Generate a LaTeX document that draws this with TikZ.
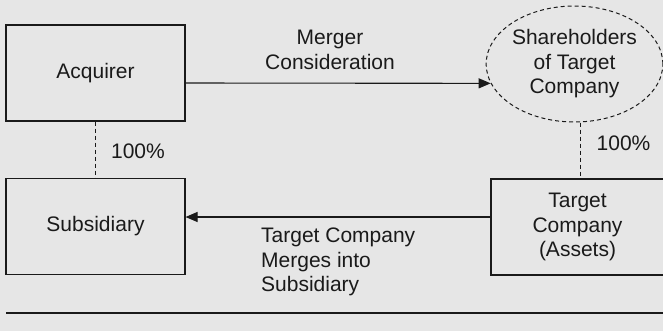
\documentclass[tikz,border=0pt]{standalone}
\usepackage{fontspec}
\setmainfont{Liberation Sans}
\usetikzlibrary{arrows.meta,shapes.geometric}
\definecolor{bg}{HTML}{E6E6E6}
\definecolor{ink}{HTML}{1A1A1A}
\tikzset{
  x=1bp, y=-1bp,
  every node/.style={font=\fontsize{21bp}{24.5bp}\selectfont, text=ink},
  boxnode/.style={draw=ink, line width=1.1bp, minimum width=179bp, minimum height=96bp, inner sep=0pt},
  ovalnode/.style={ellipse, draw=ink, line width=1bp, dash pattern=on 4bp off 3bp, minimum width=167bp, minimum height=116bp, inner sep=0pt, align=center},
  lbl/.style={inner sep=0pt, align=center},
  arr/.style={draw=ink, line width=1.1bp, -{Triangle[length=12bp,width=10bp]}},
  dashln/.style={draw=ink, line width=1bp, dash pattern=on 4bp off 3bp},
}
\begin{document}
\begin{tikzpicture}
\fill[bg] (0,0) rectangle (663,331);
\useasboundingbox (0,0) rectangle (663,331);
\begin{scope}
\clip (0,0) rectangle (663,331);
\node[boxnode] (acq) at (95.5,73) {Acquirer};
\node[boxnode] (sub) at (95.5,226.5) {Subsidiary};
\node[boxnode, minimum width=177bp, align=center] (tgt) at (579.5,227) {};
\node[lbl] (tt) at (577.5,227) {Target\\Company\\(Assets)};
\node[ovalnode] (sh) at (574.5,64) {Shareholders\\of Target\\Company};
\node[lbl] (mc) at (330,50) {Merger\\Consideration};
\node[lbl] (p1) at (138,151) {100\%};
\node[lbl] (p2) at (623.5,143) {100\%};
\node[lbl, align=left, anchor=west] (tm) at (261,262) {Target Company\\Merges into\\Subsidiary};
\draw[arr] ([yshift=-10bp]acq.east) -- (sh.193);
\draw[arr] ([yshift=10bp]tgt.west) -- ([yshift=9.5bp]sub.east);
\draw[dashln] (acq.south) -- (sub.north);
\draw[dashln] ([xshift=3bp]tt.north |- sh.south) -- ([xshift=3bp]tt.north |- tgt.north);
\coordinate (rl) at (6,313);
\coordinate (rr) at (663,313);
\draw[ink, line width=1.1bp] (rl) -- (rr);
\end{scope}
\end{tikzpicture}
\end{document}
